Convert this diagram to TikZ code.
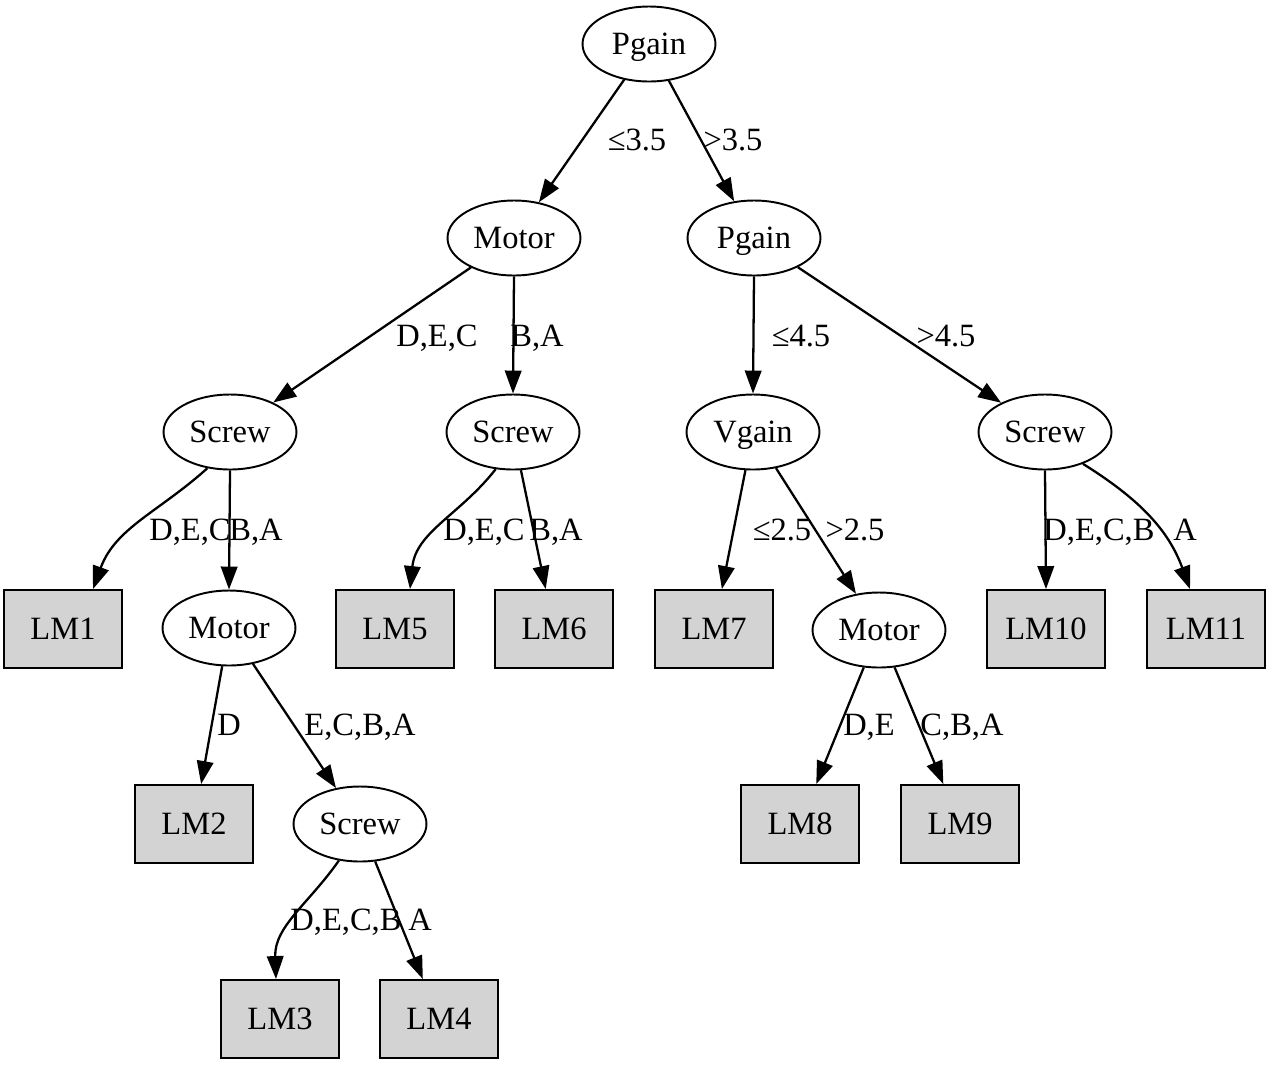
\documentclass[tikz,border=0pt]{standalone}
\usepackage{fontspec}
\setmainfont{Liberation Serif}
\usetikzlibrary{shapes.geometric,arrows.meta}
\definecolor{leafgray}{HTML}{D3D3D3}
\begin{document}
\begin{tikzpicture}[x=0.02cm,y=-0.02cm,
  every node/.style={font=\fontsize{18.5}{22}\selectfont,text height=12.2pt,text depth=0pt},
  test/.style={ellipse,draw,line width=1.1pt,minimum width=2.66cm,minimum height=1.5cm,inner sep=0pt},
  leaf/.style={rectangle,draw,line width=1.1pt,fill=leafgray,minimum width=2.36cm,minimum height=1.56cm,inner sep=0pt},
  edge/.style={draw,line width=1.3pt,-{Triangle[length=0.46cm,width=0.33cm]}},
  lbl/.style={inner sep=0pt}]
\useasboundingbox (0,0) rectangle (1272,1066);
% inner nodes
\node[test] (p1) at (649,44) {Pgain};
\node[test] (m1) at (514,238) {Motor};
\node[test] (p2) at (754,238) {Pgain};
\node[test] (s1) at (230,432) {Screw};
\node[test] (s2) at (513,432) {Screw};
\node[test] (v1) at (753,432) {Vgain};
\node[test] (s3) at (1045,432) {Screw};
\node[test] (m2) at (229,628) {Motor};
\node[test] (m3) at (879,630) {Motor};
\node[test] (s4) at (360,824) {Screw};
% leaves
\node[leaf] (lm1) at (63,629) {LM1};
\node[leaf] (lm5) at (395,629) {LM5};
\node[leaf] (lm6) at (554,629) {LM6};
\node[leaf] (lm7) at (714,629) {LM7};
\node[leaf] (lm10) at (1046,629) {LM10};
\node[leaf] (lm11) at (1206,629) {LM11};
\node[leaf] (lm2) at (194,824) {LM2};
\node[leaf] (lm8) at (800,824) {LM8};
\node[leaf] (lm9) at (960,824) {LM9};
\node[leaf] (lm3) at (280,1019) {LM3};
\node[leaf] (lm4) at (439,1019) {LM4};
% edges
\path[edge] (p1) -- (m1);
\path[edge] (p1) -- (p2);
\path[edge] (m1) -- (s1);
\path[edge] (m1.south) -- (s2.north);
\path[edge] (p2.south) -- (v1.north);
\path[edge] (p2) -- (s3);
\path[edge] (s1.238) to[out=222,in=70] (lm1.north -| 93,0);
\path[edge] (s1.south) -- (m2.north);
\path[edge] (s2.245) to[out=232,in=84] (lm5.north -| 410,0);
\path[edge] (s2) -- (lm6);
\path[edge] (v1) -- (lm7);
\path[edge] (v1) -- (m3);
\path[edge] (s3.south) -- (lm10.north);
\path[edge] (s3.-40) to[out=-32,in=110] (lm11.north -| 1190,0);
\path[edge] (m2) -- (lm2);
\path[edge] (m2) -- (s4);
\path[edge] (m3) -- (lm8);
\path[edge] (m3) -- (lm9);
\path[edge] (s4.240) to[out=235,in=92] (lm3.north -| 276,0);
\path[edge] (s4) -- (lm4);
% edge labels
\node[lbl] (e1) at (637,140) {≤3.5};
\node[lbl] (e2) at (733,140) {>3.5};
\node[lbl] (e3) at (437,336) {D,E,C};
\node[lbl] (e4) at (537,336) {B,A};
\node[lbl] (e5) at (801,336) {≤4.5};
\node[lbl] (e6) at (946,336) {>4.5};
\node[lbl] (e7) at (190,530) {D,E,C};
\node[lbl] (e8) at (256,530) {B,A};
\node[lbl] (e9) at (484,530) {D,E,C};
\node[lbl] (e10) at (556,530) {B,A};
\node[lbl] (e11) at (782,530) {≤2.5};
\node[lbl] (e12) at (855,530) {>2.5};
\node[lbl] (e13) at (1099,530) {D,E,C,B};
\node[lbl] (e14) at (1185,530) {A};
\node[lbl] (e15) at (229,725) {D};
\node[lbl] (e16) at (360,725) {E,C,B,A};
\node[lbl] (e17) at (869,725) {D,E};
\node[lbl] (e18) at (962,725) {C,B,A};
\node[lbl] (e19) at (346,920) {D,E,C,B};
\node[lbl] (e20) at (420,920) {A};
\end{tikzpicture}
\end{document}
